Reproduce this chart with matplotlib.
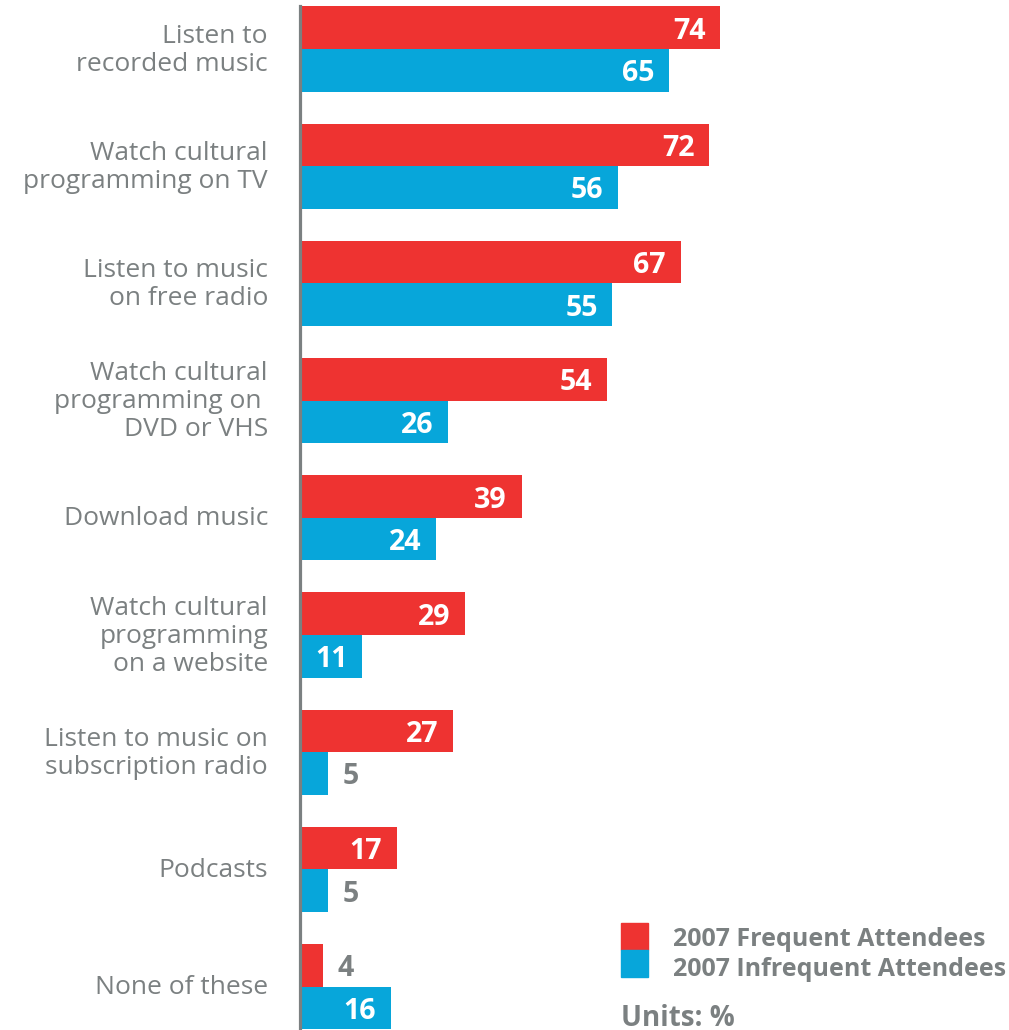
import matplotlib
matplotlib.use("Agg")
import matplotlib.pyplot as plt
import matplotlib.transforms as mtransforms
from matplotlib.patches import Rectangle
import numpy as np

plt.rcParams['font.family'] = ['Open Sans', 'DejaVu Sans']

categories = [
    "Listen to\nrecorded music",
    "Watch cultural\nprogramming on TV",
    "Listen to music\non free radio",
    "Watch cultural\nprogramming on \nDVD or VHS",
    "Download music",
    "Watch cultural\nprogramming\non a website",
    "Listen to music on\nsubscription radio",
    "Podcasts",
    "None of these",
]
frequent = [74, 72, 67, 54, 39, 29, 27, 17, 4]
infrequent = [65, 56, 55, 26, 24, 11, 5, 5, 16]
series_names = ["2007 Frequent Attendees", "2007 Infrequent Attendees"]

RED = "#ee3331"
BLUE = "#07a6da"
GRAY = "#7b8081"

W, H = 1009, 1030
fig = plt.figure(figsize=(W / 100, H / 100), dpi=100)
ax = fig.add_axes([300 / W, 0, (W - 300) / W, 1])

h = 0.363
y = np.arange(len(categories))
ax.barh(y - h / 2, frequent, height=h, color=RED, zorder=2)
ax.barh(y + h / 2, infrequent, height=h, color=BLUE, zorder=2)

ax.set_xlim(0, (W - 300) / 5.68)
ax.set_ylim(8.37, -0.418)

for s in ["top", "right", "bottom"]:
    ax.spines[s].set_visible(False)
ax.spines["left"].set_color(GRAY)
ax.spines["left"].set_linewidth(2.3)
ax.spines["left"].set_bounds(-h, 8.37)
ax.spines["left"].set_zorder(3)
ax.set_xticks([])
ax.set_yticks([])

# value labels: white inside the bar, gray outside when the bar is short
def put_value(v, yc):
    if v >= 10:
        ax.annotate(str(v), (v, yc), xytext=(-10.5, -2.5), textcoords="offset points",
                    ha="right", va="center", color="white", fontsize=20.5,
                    fontweight="bold", zorder=4)
    else:
        ax.annotate(str(v), (v, yc), xytext=(10.5, -2.5), textcoords="offset points",
                    ha="left", va="center", color=GRAY, fontsize=20.5,
                    fontweight="bold", zorder=4)

for i in range(len(categories)):
    put_value(frequent[i], y[i] - h / 2)
    put_value(infrequent[i], y[i] + h / 2)

# category labels to the left of the axis
trans = mtransforms.blended_transform_factory(fig.transFigure, ax.transData)
for i, lab in enumerate(categories):
    fig.text(268 / W, y[i] + 0.01, lab, transform=trans, ha="right", va="center",
             color=GRAY, fontsize=19, linespacing=1.16)

# legend
sq = 27
fig.patches.append(Rectangle((621 / W, 1 - 950 / H), sq / W, sq / H,
                             transform=fig.transFigure, color=RED))
fig.patches.append(Rectangle((621 / W, 1 - 977 / H), sq / W, sq / H,
                             transform=fig.transFigure, color=BLUE))
fig.text(673 / W, 1 - 939 / H, series_names[0], ha="left", va="center",
         color=GRAY, fontsize=18, fontweight="bold")
fig.text(673 / W, 1 - 969 / H, series_names[1], ha="left", va="center",
         color=GRAY, fontsize=18, fontweight="bold")
fig.text(621 / W, 1 - 1019 / H, "Units: %", ha="left", va="center",
         color=GRAY, fontsize=20, fontweight="bold")

fig.savefig("out.png", dpi=100)
